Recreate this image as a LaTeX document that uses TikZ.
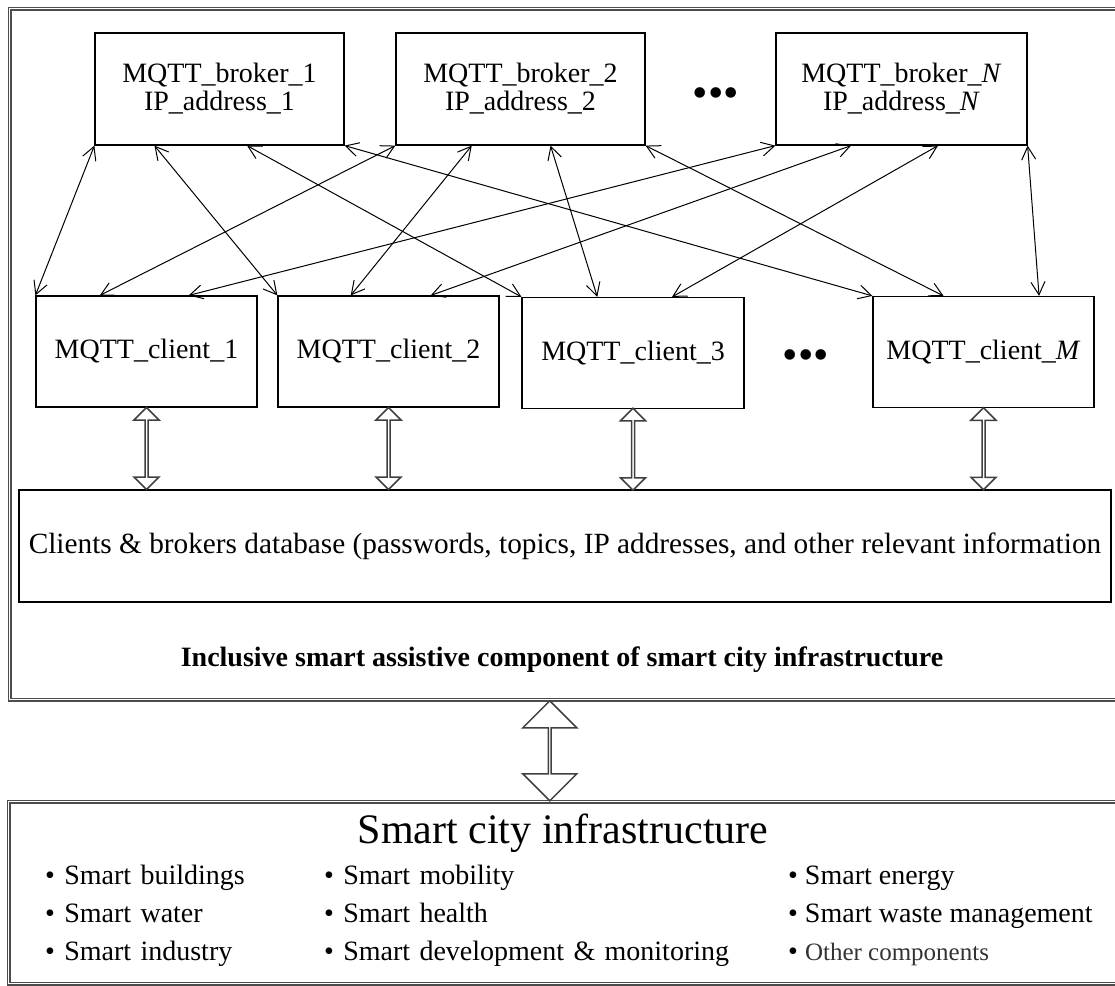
\documentclass[tikz,border=0pt]{standalone}
\usepackage{fontspec}
\setmainfont{Liberation Serif}
\usetikzlibrary{calc,arrows.meta,shapes.arrows,matrix}

\tikzset{
  unit/.style={draw, line width=1.2pt, minimum height=112pt, inner sep=0pt,
    align=center, font=\fontsize{28}{28}\selectfont},
  frame/.style={draw=black!70, double, double distance=1.2pt, line width=1.6pt,
    inner sep=0pt, anchor=north west},
  link/.style={line width=1pt,
    {Straight Barb[length=13pt,width=14pt]}-{Straight Barb[length=13pt,width=14pt]}},
  dbl/.style={double arrow, draw=black!75, line width=1.5pt, shape border rotate=90,
    inner sep=0pt, minimum width=25pt, double arrow head extend=5.5pt},
  dots/.style={font=\fontsize{44}{44}\selectfont, inner sep=0pt}
}

\begin{document}
\begin{tikzpicture}[x=1pt, y=-1pt]
  \useasboundingbox (0,0) rectangle (1115,985);

  % outer frames
  \node (comp) [frame, minimum width=1117pt, minimum height=691pt] at (9,8) {};
  \node (city) [frame, minimum width=1118pt, minimum height=182pt] at (8,801) {};

  % brokers
  \node (b1) [unit, minimum width=249pt] at (219.5,89) {MQTT\_broker\_1\\IP\_address\_1};
  \node (b2) [unit, minimum width=249pt] at (520.5,89) {MQTT\_broker\_2\\IP\_address\_2};
  \node (bn) [unit, minimum width=251pt] at (901.5,89) {MQTT\_broker\_\textit{N}\\IP\_address\_\textit{N}};
  \node (bdots) [dots] at (716,98) {\textbullet\textbullet\textbullet};

  % clients
  \node (c1) [unit, minimum width=221pt, minimum height=111pt] at (146.5,351.5) {MQTT\_client\_1};
  \node (c2) [unit, minimum width=221pt, minimum height=111pt] at (388.5,351.5) {MQTT\_client\_2};
  \node (c3) [unit, minimum width=222pt, minimum height=111pt] at (633,353) {MQTT\_client\_3};
  \node (cm) [unit, minimum width=221pt, minimum height=111pt] at (983.5,352) {MQTT\_client\_\textit{M}};
  \node (cdots) [dots] at (806,360) {\textbullet\textbullet\textbullet};

  \node (db) [unit, minimum width=1092pt, font=\fontsize{29.3}{29.3}\selectfont] at (565,546)
    {Clients \& brokers database (passwords, topics, IP addresses, and other relevant information};

  \node (title) [font=\bfseries\fontsize{28}{28}\selectfont] at (562,660)
    {Inclusive smart assistive component of smart city infrastructure};

  % every broker talks to every client
  \path[link]
    (b1.south west) edge (c1.north west)
    ($(b1.south west)!.24!(b1.south east)$) edge (c2.north west)
    ($(b1.south west)!.61!(b1.south east)$) edge (c3.north west)
    (b1.south east) edge (cm.north west)
    (b2.south west) edge ($(c1.north west)!.29!(c1.north east)$)
    ($(b2.south west)!.305!(b2.south east)$) edge ($(c2.north west)!.33!(c2.north east)$)
    ($(b2.south west)!.62!(b2.south east)$) edge ($(c3.north west)!.34!(c3.north east)$)
    (b2.south east) edge ($(cm.north west)!.32!(cm.north east)$)
    (bn.south west) edge ($(c1.north west)!.69!(c1.north east)$)
    ($(bn.south west)!.30!(bn.south east)$) edge ($(c2.north west)!.69!(c2.north east)$)
    ($(bn.south west)!.645!(bn.south east)$) edge ($(c3.north west)!.675!(c3.north east)$)
    (bn.south east) edge ($(cm.north west)!.75!(cm.north east)$);

  % clients <-> database
  \foreach \c in {c1,c2,c3,cm}
    \path (\c.south) -- (\c.south |- db.north) node[midway, dbl, minimum height=82pt] {};

  % component <-> infrastructure
  \path ([xshift=-18.5pt]comp.south) -- ([xshift=-18.5pt]comp.south |- city.north)
    node[midway, dbl, minimum width=54pt, double arrow head extend=13.5pt, minimum height=100pt] {};

  \node (head) [font=\fontsize{42}{42}\selectfont] at (563,833) {Smart city infrastructure};

  \matrix (items) [matrix of nodes, anchor=north west, inner sep=0pt, row sep=12pt,
    nodes={anchor=base west, inner sep=0pt, text height=20pt, text depth=6pt,
      font=\fontsize{28}{28}\selectfont},
    column 1/.style={nodes={text width=279pt}},
    column 2/.style={nodes={text width=464pt}}] at (45,864)
  {
    \textbullet\ Smart buildings & \textbullet\ Smart mobility & \textbullet\ Smart energy \\
    \textbullet\ Smart water & \textbullet\ Smart health & \textbullet\ Smart waste management \\
    \textbullet\ Smart industry & \textbullet\ Smart development \& monitoring &
      \textbullet\ {\color{black!80}\fontsize{25}{25}\selectfont Other components} \\
  };
\end{tikzpicture}
\end{document}
